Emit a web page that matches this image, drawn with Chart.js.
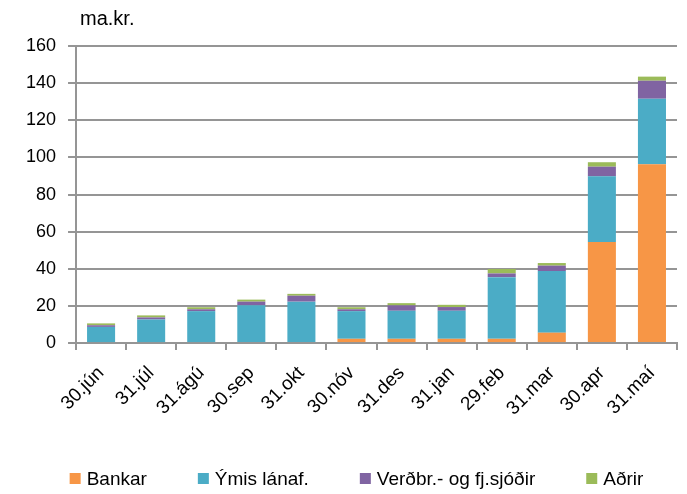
<!DOCTYPE html>
<html>
<head>
<meta charset="utf-8">
<script src="https://cdn.jsdelivr.net/npm/chart.js@4"></script>
<style>
  body { margin: 0; background: #fff; }
  #wrap { width: 687px; height: 494px; }
</style>
</head>
<body>
<div id="wrap"><canvas id="myChart" width="687" height="494"></canvas></div>
<script>
// month-end dates
const labels = ['30.jún', '31.júl', '31.ágú', '30.sep', '31.okt', '30.nóv', '31.des', '31.jan', '29.feb', '31.mar', '30.apr', '31.maí'];

// ma.kr. per holder group
const bankar = [0, 0, 0, 0, 0, 2.3, 2.3, 2.3, 2.3, 5.6, 54.4, 96.3];
const ymis = [8.7, 12.7, 17.2, 20.4, 22.3, 14.9, 15.1, 15.1, 33.2, 33.2, 35.4, 35.3];
const verdbr = [0.9, 1.1, 1.0, 1.9, 3.2, 1.0, 2.9, 2.0, 2.0, 2.9, 5.2, 9.7];
const adrir = [1.0, 1.1, 1.1, 1.1, 1.0, 1.1, 1.2, 1.2, 2.4, 1.4, 2.4, 2.2];

const yTicks = [0, 20, 40, 60, 80, 100, 120, 140, 160];

const family = "'Liberation Sans', Arial, sans-serif";
const gridColor = '#959595';

// unit text above the y axis
const unitLabel = {
  id: 'unitLabel',
  afterDraw(chart) {
    const c = chart.ctx;
    c.save();
    c.font = '20px ' + family;
    c.fillStyle = '#000';
    c.textBaseline = 'middle';
    c.fillText('ma.kr.', chart.chartArea.left + 4, 19);
    c.restore();
  }
};

// one row legend at the bottom, wide gaps between entries
const legendRow = {
  id: 'legendRow',
  afterDraw(chart) {
    const c = chart.ctx;
    const box = 11, gap = 6, space = 51;
    c.save();
    c.font = '19px ' + family;
    const items = chart.data.datasets.map(ds => ({
      text: ds.label,
      color: ds.backgroundColor,
      w: c.measureText(ds.label).width
    }));
    const total = items.reduce((s, it) => s + box + gap + it.w, 0) + space * (items.length - 1);
    let x = chart.width / 2 + 13 - total / 2;
    const y = chart.height - 14;
    c.textBaseline = 'middle';
    items.forEach(it => {
      c.fillStyle = it.color;
      c.fillRect(x, y - 7, box, box);
      c.fillStyle = '#000';
      c.fillText(it.text, x + box + gap, y);
      x += box + gap + it.w + space;
    });
    c.restore();
  }
};

const ctx = document.getElementById('myChart');
let myChart = new Chart(ctx, {
  type: 'bar',
  data: {
    labels: labels,
    datasets: [
      { label: 'Bankar', data: bankar, backgroundColor: '#F79646' },
      { label: 'Ýmis lánaf.', data: ymis, backgroundColor: '#4BACC6' },
      { label: 'Verðbr.- og fj.sjóðir', data: verdbr, backgroundColor: '#8064A2' },
      { label: 'Aðrir', data: adrir, backgroundColor: '#9BBB59' }
    ]
  },
  options: {
    responsive: false,
    animation: false,
    layout: { padding: { top: 46, right: 10, left: 14, bottom: 62 } },
    datasets: { bar: { categoryPercentage: 1, barPercentage: 0.56 } },
    plugins: {
      tooltip: { enabled: false },
      legend: { display: false }
    },
    scales: {
      x: {
        stacked: true,
        grid: { drawOnChartArea: false, color: gridColor, lineWidth: 2, tickLength: 7 },
        border: { color: gridColor, width: 2 },
        ticks: { font: { family: family, size: 19 }, color: '#000', maxRotation: 45, minRotation: 45, padding: 12 }
      },
      y: {
        stacked: true,
        min: 0,
        max: 160,
        afterBuildTicks(scale) {
          scale.ticks = yTicks.map(v => ({ value: v }));
        },
        grid: { color: gridColor, lineWidth: 2, tickLength: 8 },
        border: { color: gridColor, width: 2 },
        ticks: { font: { family: family, size: 18 }, color: '#000', padding: 12 }
      }
    }
  },
  plugins: [unitLabel, legendRow]
});
</script>
</body>
</html>
